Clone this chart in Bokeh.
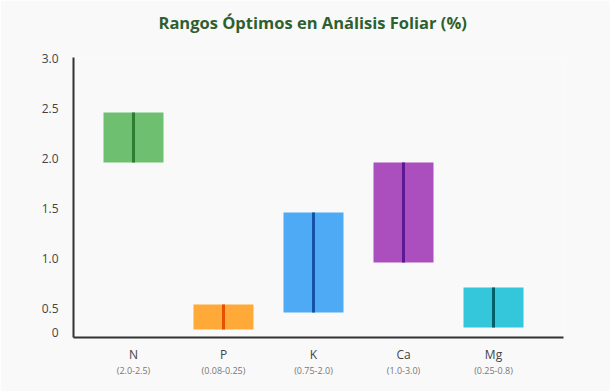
from bokeh.plotting import figure
from bokeh.models import FixedTicker, Range1d, LinearAxis, ColumnDataSource, Title
from bokeh.embed import file_html
from bokeh.resources import INLINE

# ---- data ----
nutrients = ["N", "P", "K", "Ca", "Mg"]
range_texts = ["(2.0-2.5)", "(0.08-0.25)", "(0.75-2.0)", "(1.0-3.0)", "(0.25-0.8)"]
bar_low = [2.0, 0.33, 0.5, 1.0, 0.35]
bar_high = [2.5, 0.58, 1.5, 2.0, 0.75]
fill_colors = ["#6fbf70", "#ffaa38", "#4eaaf4", "#ab4fbe", "#34c6da"]
line_colors = ["#2e7d32", "#e65100", "#1552a8", "#5b1a93", "#00606c"]
ytick_labels = ["3.0", "2.5", "2.0", "1.5", "1.0", "0.5", "0"]
ytick_values = [3.0, 2.5, 2.0, 1.5, 1.0, 0.5, 0.0]
title_text = "Rangos Óptimos en Análisis Foliar (%)"

BG = "#f9f9f9"
xs = list(range(len(nutrients)))
half = 1 / 3

src = ColumnDataSource(dict(
    x=xs,
    left=[x - half for x in xs],
    right=[x + half for x in xs],
    low=bar_low,
    high=bar_high,
    fill=fill_colors,
    line=line_colors,
))

X0, X1 = -2 / 3, 4.7778
Y0, Y1 = 0.25, 3.05
p = figure(width=610, height=391, output_backend="svg", toolbar_location=None,
           x_range=Range1d(X0, X1), y_range=Range1d(Y0, Y1),
           min_border_left=73, min_border_right=47, min_border_top=57,
           min_border_bottom=54, x_axis_type=None, y_axis_type=None)
p.background_fill_color = BG
p.border_fill_color = BG
p.outline_line_color = None
p.grid.visible = False

p.quad(left="left", right="right", bottom="low", top="high", source=src,
       fill_color="fill", line_color=None)
p.segment(x0="x", x1="x", y0="low", y1="high", source=src,
          line_color="line", line_width=3)

# spacer between frame and title, then the title itself
p.add_layout(Title(text=" ", text_font_size="7px"), "above")
p.title.text = title_text
p.title.text_font = "Open Sans"
p.title.text_font_size = "16.5px"
p.title.text_font_style = "bold"
p.title.text_color = "#2e5f2f"
p.title.align = "left"
p.title.offset = 85

# y axis (labels sit slightly above the data positions, "0" at axis foot)
tick_pos = [v + 0.04 for v in ytick_values[:-1]] + [0.30]
yax = LinearAxis(ticker=FixedTicker(ticks=tick_pos),
                 major_label_overrides={t: l for t, l in zip(tick_pos, ytick_labels)})
yax.axis_line_color = "#333333"
yax.axis_line_width = 2
yax.major_tick_line_color = None
yax.minor_tick_line_color = None
yax.major_label_text_font = "Open Sans"
yax.major_label_text_font_size = "12px"
yax.major_label_text_color = "#444444"
yax.major_label_standoff = 9
p.add_layout(yax, "left")

xax = LinearAxis(ticker=FixedTicker(ticks=xs),
                 major_label_overrides={x: n for x, n in zip(xs, nutrients)})
xax.axis_line_color = "#333333"
xax.axis_line_width = 2
xax.major_tick_line_color = None
xax.minor_tick_line_color = None
xax.major_label_text_font = "Open Sans"
xax.major_label_text_font_size = "12px"
xax.major_label_text_color = "#444444"
xax.major_label_standoff = 2
p.add_layout(xax, "below")

xax2 = LinearAxis(ticker=FixedTicker(ticks=xs),
                  major_label_overrides={x: t for x, t in zip(xs, range_texts)})
xax2.axis_line_color = None
xax2.major_tick_line_color = None
xax2.minor_tick_line_color = None
xax2.major_label_text_font = "Open Sans"
xax2.major_label_text_font_size = "9px"
xax2.major_label_text_color = "#777777"
xax2.major_label_standoff = -8
p.add_layout(xax2, "below")

html = file_html(p, INLINE)
html = html.replace("<body>", '<body style="background:%s">' % BG, 1)
open("out.html", "w").write(html)
